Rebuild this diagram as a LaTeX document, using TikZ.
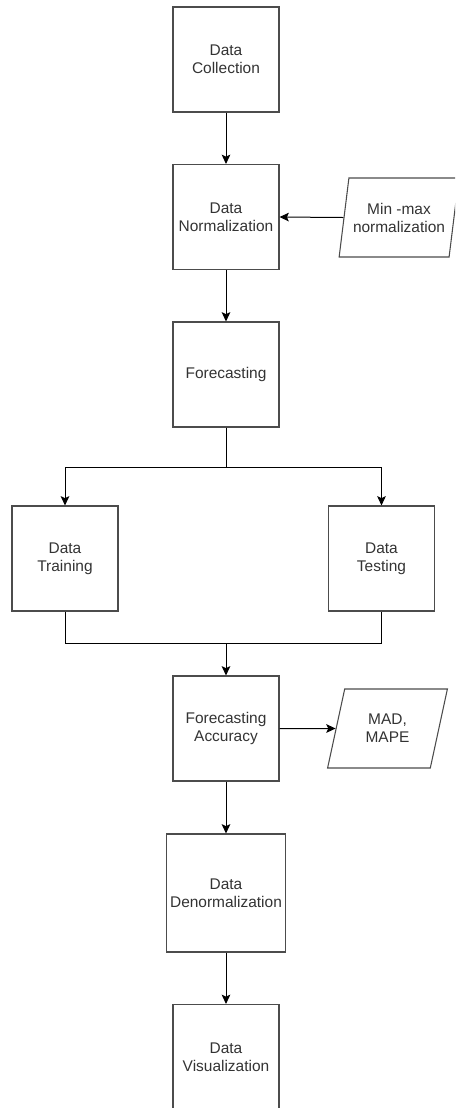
\documentclass[tikz,border=0pt]{standalone}
\usepackage{fontspec}
\setmainfont{Liberation Sans}
\usepackage{tikz}
\usetikzlibrary{shapes.geometric}
\usetikzlibrary{arrows.meta}

\tikzset{
        stage/.style={draw = black!70, line width = 0.8pt, text = black!80,
                align = center, inner sep = 0pt,
                minimum width = 79.5pt, minimum height = 78.75pt,
                font = \fontsize{11.6}{13.5}\selectfont},
        io/.style={trapezium, trapezium left angle = 73, trapezium right angle = 107,
                trapezium stretches = true, draw = black!70, line width = 0.8pt,
                text = black!80, align = center, inner sep = 0pt,
                minimum width = 90pt, minimum height = 59.25pt,
                font = \fontsize{11.6}{13.5}\selectfont},
        link/.style={-{Stealth[length = 7pt, width = 6.5pt, inset = 1.5pt]}, line width = 0.75pt}
}

\begin{document}
\begin{tikzpicture}[x = 0.75pt, y = -0.75pt]
        \useasboundingbox (0,0) rectangle (455,1108);
        \clip (0,0) rectangle (455,1108);

        \node[stage] (collect) at (226,59.5) {Data\\Collection};
        \node[stage] (norm) at (226,217) {Data\\Normalization};
        \node[io] (minmax) at (399,217.5) {Min -max\\normalization};
        \node[stage] (forecast) at (226,374.5) {Forecasting};
        \node[stage] (train) at (65,558.5) {Data\\Training};
        \node[stage] (test) at (381.5,558.5) {Data\\Testing};
        \node[stage] (acc) at (226,728.5) {Forecasting\\Accuracy};
        \node[io] (mad) at (387.5,728.5) {MAD,\\MAPE};
        \node[stage, minimum width = 89.25pt, minimum height = 88.5pt] (denorm) at (226,893) {Data\\Denormalization};
        \node[stage] (visual) at (226,1057) {Data\\Visualization};
        \coordinate (join) at (226,643);

        \draw[link] (collect) -- (norm);
        \draw[link] (minmax.west) -- (norm.east);
        \draw[link] (norm) -- (forecast);
        \draw[link] (forecast.south) -- ++(0,40) -| (train.north);
        \draw[link] (forecast.south) -- ++(0,40) -| (test.north);
        \draw[line width = 0.75pt] (train.south) |- (join) -| (test.south);
        \draw[link] (join) -- (acc.north);
        \draw[link] (acc.east) -- (mad.west);
        \draw[link] (acc) -- (denorm);
        \draw[link] (denorm) -- (visual);
\end{tikzpicture}
\end{document}
